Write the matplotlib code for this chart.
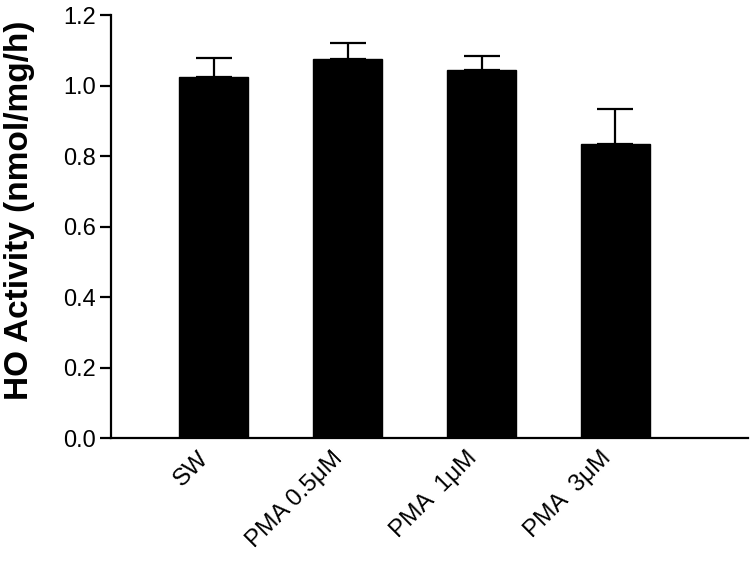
import matplotlib
matplotlib.use("Agg")
import matplotlib.pyplot as plt
import matplotlib.transforms as mtransforms
import numpy as np

categories = ["SW", "PMA 0.5\u03bcM", "PMA  1\u03bcM", "PMA  3\u03bcM"]
values = [1.023, 1.074, 1.044, 0.834]
errors = [0.055, 0.047, 0.041, 0.100]
yticks = [0.0, 0.2, 0.4, 0.6, 0.8, 1.0, 1.2]

plt.rcParams['font.family'] = ['Liberation Sans', 'DejaVu Sans']

fig = plt.figure(figsize=(7.51, 5.61), dpi=100)
ax = fig.add_axes([111/751, 1 - 438.3/561, (748 - 111)/751, (438.3 - 15)/561])

x = np.arange(len(categories))
ax.bar(x, values, width=0.515, color='black', edgecolor='black', zorder=2)
ax.errorbar(x, values, yerr=[np.zeros(len(errors)), errors], fmt='none',
            ecolor='black', elinewidth=1.6, capsize=13, capthick=1.6, zorder=1)

ax.set_xlim(-0.767, 3.99)
ax.set_ylim(0, 1.2)
ax.set_yticks(yticks)
ax.set_yticklabels([f"{t:.1f}" for t in yticks], fontsize=17)
ax.set_xticks(x)
ax.set_xticklabels(categories, fontsize=17.5, rotation=45, ha='right',
                   rotation_mode='anchor')
ax.tick_params(axis='x', length=0, pad=12)
ax.tick_params(axis='y', length=8, width=1.6, pad=3)
offset = mtransforms.ScaledTranslation(-0.16, 0.08, fig.dpi_scale_trans)
for lab in ax.get_xticklabels():
    lab.set_transform(lab.get_transform() + offset)
for s in ['top', 'right']:
    ax.spines[s].set_visible(False)
for s in ['left', 'bottom']:
    ax.spines[s].set_linewidth(1.6)
ax.set_ylabel("HO Activity (nmol/mg/h)", fontsize=24, fontweight='bold')
ax.yaxis.set_label_coords(-0.12, 0.539)

fig.savefig("out.png", dpi=100)
